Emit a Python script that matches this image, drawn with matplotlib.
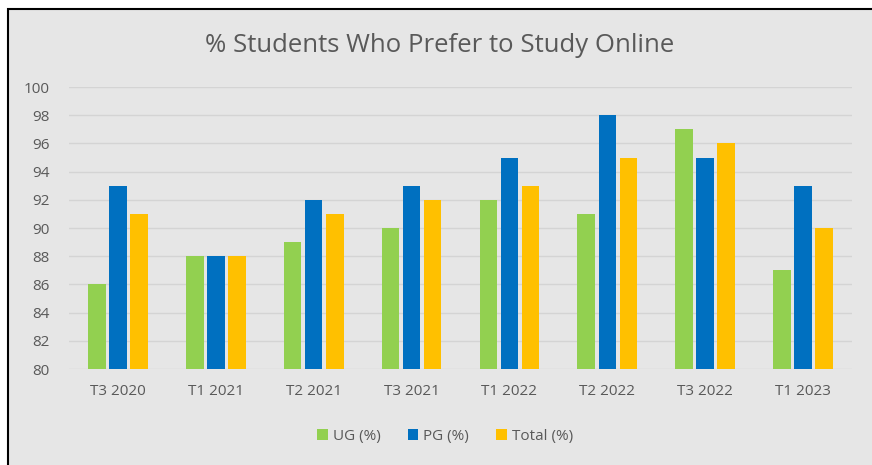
import numpy as np
import matplotlib
matplotlib.use("Agg")
import matplotlib.pyplot as plt
from matplotlib.patches import Rectangle

plt.rcParams['font.family'] = ['Open Sans', 'DejaVu Sans']

terms = ["T3 2020", "T1 2021", "T2 2021", "T3 2021", "T1 2022", "T2 2022", "T3 2022", "T1 2023"]
ug = [86, 88, 89, 90, 92, 91, 97, 87]
pg = [93, 88, 92, 93, 95, 98, 95, 93]
total = [91, 88, 91, 92, 93, 95, 96, 90]

W, H = 872, 465
fig = plt.figure(figsize=(W / 100, H / 100), dpi=100)
fig.patch.set_facecolor("white")

# chart frame: grey fill with black border top/left
bg = Rectangle((8 / W, -0.01), 1.0, 1 - 9 / H + 0.01, transform=fig.transFigure,
               facecolor="#e6e6e6", edgecolor="black", linewidth=1.5, zorder=-10)
fig.patches.append(bg)

ax = fig.add_axes([69 / W, 1 - 369 / H, (852 - 69) / W, (369 - 87) / H])
ax.set_facecolor("none")

x = np.arange(len(terms))
bw = 0.18
off = 0.215
ax.bar(x - off, ug, bw, color="#92d050", label="UG (%)", zorder=3)
ax.bar(x, pg, bw, color="#0070c0", label="PG (%)", zorder=3)
ax.bar(x + off, total, bw, color="#ffc000", label="Total (%)", zorder=3)

ax.set_xlim(-0.5, len(terms) - 0.5)
ax.set_ylim(80, 100)
ax.set_yticks(range(80, 101, 2))
ax.set_xticks(x)
ax.set_xticklabels(terms)
ax.yaxis.grid(True, color="#d4d4d4", linewidth=1, zorder=0)
for s in ax.spines.values():
    s.set_visible(False)
ax.tick_params(length=0, colors="#595959", labelsize=11)
ax.tick_params(axis="x", pad=11)
ax.tick_params(axis="y", pad=14)

fig.text(440 / W, 1 - 45 / H, "% Students Who Prefer to Study Online", ha="center", va="center",
         fontsize=18.5, color="#595959")

fig.legend(loc="center", bbox_to_anchor=(445 / W, 1 - 436 / H), ncol=3, frameon=False,
           fontsize=11, labelcolor="#595959", handlelength=0.7, handleheight=0.7,
           handletextpad=0.3, columnspacing=1.8)

fig.savefig("out.png", dpi=100)
